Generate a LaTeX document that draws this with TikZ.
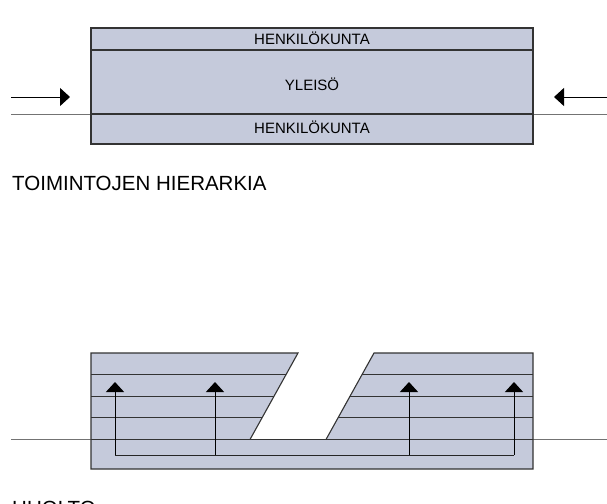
\documentclass[tikz,border=0pt]{standalone}
\usepackage{fontspec}
\setmainfont{Liberation Sans}
\usetikzlibrary{arrows.meta,calc}
\definecolor{panel}{HTML}{C5CADB}
\tikzset{
  panelline/.style={draw=black!80, line width=1.1pt},
  groundline/.style={draw=black!55, line width=0.9pt},
  flow/.style={draw=black, line width=1pt, -{Triangle[length=10pt,width=18pt]}},
  flowline/.style={draw=black!85, line width=1pt},
  boxtext/.style={inner sep=0pt, font=\fontsize{15}{18}\selectfont},
  caption/.style={inner sep=0pt, anchor=base west, font=\fontsize{20.5}{24}\selectfont}
}
\begin{document}
\begin{tikzpicture}[x=1pt,y=-1pt]
\useasboundingbox (0,0) rectangle (607,503);
% ---------- top diagram ----------
\coordinate (tA) at (91,28);
\coordinate (tB) at (533,144);
\fill[panel] (tA) rectangle (tB);
\coordinate (gL) at (11,114);
\coordinate (gR) at (607,114);
\draw[groundline] (gL) -- (gR);
\draw[panelline] (91,50) -- (533,50);
\draw[panelline] (91,114) -- (533,114);
\draw[panelline] (tA) rectangle (tB);
\node[boxtext] (staff1) at (312,38.5) {HENKILÖKUNTA};
\node[boxtext] (public) at (312,84) {YLEISÖ};
\node[boxtext] (staff2) at (312,127.5) {HENKILÖKUNTA};
\coordinate (aLs) at (11,97);
\coordinate (aLe) at (70,97);
\coordinate (aRs) at (607,97);
\coordinate (aRe) at (554,97);
\draw[flow] (aLs) -- (aLe);
\draw[flow] (aRs) -- (aRe);
\node[caption] (cap1) at (12,190) {TOIMINTOJEN HIERARKIA};
% ---------- bottom diagram ----------
\coordinate (lTL) at (91,353);
\coordinate (lTR) at (298,353);
\coordinate (lBR) at (250,439.5);
\coordinate (lBL) at (91,439.5);
\coordinate (rBL) at (326,439.5);
\coordinate (rBR) at (533,439.5);
\coordinate (rTL) at (374,353);
\coordinate (rTR) at (533,353);
\coordinate (bR) at (533,469);
\coordinate (bL) at (91,469);
\fill[panel] (lTL) -- (lTR) -- (lBR) -- (rBL) -- (rTL) -- (rTR) -- (bR) -- (bL) -- cycle;
\coordinate (g2L) at (11,439.5);
\coordinate (g2R) at (607,439.5);
\draw[groundline] (g2L) -- (g2R);
\foreach \t in {0.25,0.5,0.75}{
  \draw[panelline] ($(lTL)!\t!(lBL)$) -- ($(lTR)!\t!(lBR)$);
  \draw[panelline] ($(rTL)!\t!(rBL)$) -- ($(rTR)!\t!(rBR)$);
}
\draw[panelline] (lBL) -- (rBR);
\draw[panelline] (lBL) -- (lTL) -- (lTR) -- (lBR);
\draw[panelline] (rBL) -- (rTL) -- (rTR) -- (bR) -- (bL) -- (lBL);
% flows
\coordinate (f1) at (115,455);
\coordinate (f2) at (215,455);
\coordinate (f3) at (409,455);
\coordinate (f4) at (514,455);
\draw[flowline] (f1) -- (f4);
\foreach \p in {f1,f2,f3,f4}{
  \draw[flow] (\p) -- ($(\p)+(0,-73)$);
}
\node[caption] (cap2) at (12,515) {HUOLTO};
\end{tikzpicture}
\end{document}
